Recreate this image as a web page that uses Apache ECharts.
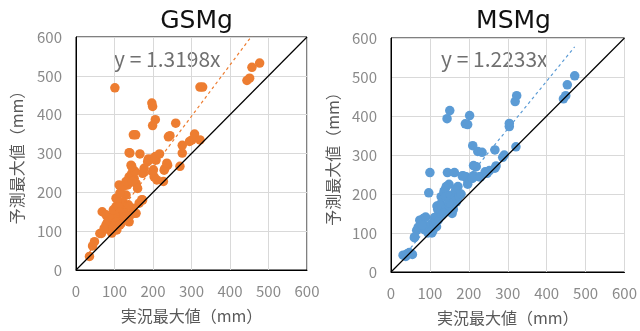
<!DOCTYPE html>
<html><head><meta charset="utf-8">
<script src="https://cdn.jsdelivr.net/npm/echarts@6/dist/echarts.min.js"></script>
<style>html,body{margin:0;padding:0;background:#fff}#c{width:640px;height:331px}</style>
</head><body><div id="c"></div>
<script>
const titles = ['GSMg', 'MSMg'];
const slopes = [1.3198, 1.2233];
const trendLabels = ['y = 1.3198x', 'y = 1.2233x'];
const ticks = [0, 100, 200, 300, 400, 500, 600];
const xName = '実況最大値（mm）';
const yName = '予測最大値（mm）';

const gsmObs = [35,43,48,62,66,68,78,82,78,87,73,93,101,104,95,108,117,125,130,117,104,97,138,130,112,143,138,151,156,160,134,104,121,173,177,199,203,186,208,229,238,164,173,147,156,107,114,123,130,145,153,147,145,140,149,155,166,175,171,149,132,114,106,123,136,97,110,197,199,206,199,188,197,206,217,201,210,227,231,236,244,240,259,270,276,276,295,301,308,322,322,329,444,451,457,477,138,115,125,140];
const gsmPred = [35,62,73,94,94,150,142,124,116,103,107,95,469,163,137,142,167,154,142,120,124,112,124,193,219,270,240,236,223,210,219,185,176,249,262,253,240,279,283,257,270,172,180,159,146,181,198,215,228,249,254,228,266,301,348,348,299,251,181,146,129,116,103,155,168,155,163,430,421,387,372,286,286,292,299,258,232,228,262,275,346,343,378,267,301,321,331,335,350,335,471,471,488,494,522,533,302,150,135,140];

const msmObs = [31,38,42,47,61,66,74,83,89,78,91,100,100,97,108,117,121,125,118,127,129,138,142,140,145,144,151,149,155,159,168,157,163,168,172,174,185,193,197,197,191,197,202,210,212,219,212,223,234,227,242,253,267,270,267,287,291,304,304,319,323,321,443,449,453,472,136,140,153,166,170,157,183,209,217,230,247,120,130,112,105,95,85,110,130,140,150,165,175,180,160,148,135,115,70,80,60,105,95,55];
const msmPred = [43,40,47,50,90,107,133,137,141,116,107,103,255,203,107,116,133,150,169,174,193,210,219,199,255,393,414,225,184,167,180,150,255,214,219,201,247,244,236,225,380,378,401,324,273,270,247,309,307,244,257,260,313,272,266,294,300,373,381,437,452,321,444,452,480,503,206,193,197,210,185,176,246,240,270,244,253,160,170,140,125,118,110,120,145,160,170,190,195,200,160,178,150,130,115,120,88,100,100,45];

const colors = ['#ED7D31', '#5B9BD5'];
const grids = [
  {left: 76, top: 37, width: 231, height: 233},
  {left: 391, top: 38, width: 235, height: 234}
];
const font = '"Noto Sans CJK JP", "Noto Sans", sans-serif';

function pairs(xs, ys) { return xs.map((x, i) => [x, ys[i]]); }
function trend(xs, k) {
  const mn = Math.min(...xs), mx = Math.max(...xs);
  return [[mn, k * mn], [mx, k * mx]];
}

const chart = echarts.init(document.getElementById('c'));
const datasets = [[gsmObs, gsmPred], [msmObs, msmPred]];
const option = {
  animation: false,
  textStyle: {fontFamily: font},
  title: titles.map((t, i) => ({
    text: t,
    left: grids[i].left + grids[i].width / 2,
    textAlign: 'center',
    top: 4,
    textStyle: {fontSize: 25, fontWeight: 'normal', color: '#111', fontFamily: '"DejaVu Sans", sans-serif'}
  })),
  grid: grids.map(g => Object.assign({show: true, borderColor: '#000', borderWidth: 1}, g)),
  xAxis: grids.map((g, i) => ({
    type: 'value', gridIndex: i, min: 0, max: 600, interval: 100,
    name: xName, nameLocation: 'middle', nameGap: 38,
    nameTextStyle: {fontSize: 16, color: '#595959', fontFamily: font},
    axisLine: {show: true, lineStyle: {color: '#000', width: 1}},
    axisTick: {show: false},
    axisLabel: {fontSize: 15, color: '#8a8a8a', margin: 14, fontFamily: font},
    splitLine: {show: true, lineStyle: {color: '#d9d9d9', width: 1}}
  })),
  yAxis: grids.map((g, i) => ({
    type: 'value', gridIndex: i, min: 0, max: 600, interval: 100,
    name: yName, nameLocation: 'middle', nameGap: i === 0 ? 51 : 50, nameRotate: 90,
    nameTextStyle: {fontSize: 16, color: '#595959', fontFamily: font},
    axisLine: {show: true, lineStyle: {color: '#000', width: 1}},
    axisTick: {show: false},
    axisLabel: {fontSize: 15, color: '#8a8a8a', margin: 14, fontFamily: font},
    splitLine: {show: true, lineStyle: {color: '#d9d9d9', width: 1}}
  })),
  series: []
};
datasets.forEach((d, i) => {
  option.series.push({
    type: 'scatter', xAxisIndex: i, yAxisIndex: i,
    data: pairs(d[0], d[1]), symbolSize: 9.5,
    itemStyle: {color: colors[i], opacity: 1}, z: 3
  });
  option.series.push({
    type: 'line', xAxisIndex: i, yAxisIndex: i, data: trend(d[0], slopes[i]),
    symbol: 'none', clip: true,
    lineStyle: {color: colors[i], width: 1.2, type: [3, 3]}, z: 4
  });
  option.series.push({
    type: 'line', xAxisIndex: i, yAxisIndex: i, data: [[0, 0], [600, 600]],
    symbol: 'none', lineStyle: {color: '#000', width: 1.2}, z: 5
  });
});
option.graphic = trendLabels.map((t, i) => ({
  type: 'text',
  left: i === 0 ? 114 : 441,
  top: 49,
  style: {text: t, fontSize: 21, fill: '#707070', fontFamily: font}
}));
chart.setOption(option);
</script>
</body></html>
